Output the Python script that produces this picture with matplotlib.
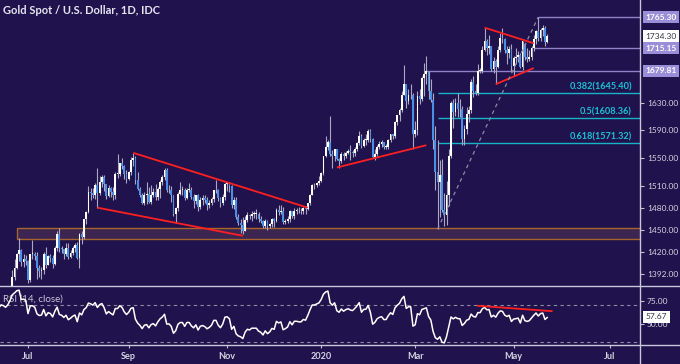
import matplotlib
matplotlib.use("Agg")
import matplotlib.pyplot as plt
import matplotlib.transforms as mtransforms
from matplotlib.lines import Line2D
from matplotlib.patches import Rectangle
from matplotlib.ticker import FixedLocator, FixedFormatter, NullLocator
import numpy as np
import pandas as pd

plt.rcParams['font.family'] = ['Lato', 'DejaVu Sans']

# XAU/USD daily bars, 1 May 2019 .. 22 May 2020, one row per month
opens = [
    1283, 1284, 1271, 1279, 1281, 1284, 1281, 1284, 1286, 1300, 1297, 1297, 1286, 1277, 1277, 1273, 1274, 1283, 1284, 1284, 1279, 1280, 1288,
    1305, 1327, 1326, 1333, 1337, 1341, 1327, 1327, 1334, 1342, 1341, 1339, 1346, 1360, 1388, 1400, 1418, 1423, 1408, 1411,
    1409, 1384, 1418, 1418, 1415, 1400, 1396, 1397, 1418, 1403, 1415, 1413, 1405, 1426, 1445, 1426, 1424, 1418, 1426, 1414, 1419, 1426, 1430,
    1413, 1445, 1440, 1464, 1474, 1502, 1500, 1497, 1512, 1500, 1516, 1523, 1513, 1496, 1507, 1502, 1498, 1527, 1527, 1542, 1538, 1527,
    1520, 1529, 1547, 1550, 1519, 1506, 1498, 1486, 1497, 1499, 1488, 1498, 1501, 1494, 1506, 1516, 1522, 1532, 1504, 1505, 1497,
    1472, 1479, 1499, 1505, 1505, 1493, 1505, 1505, 1495, 1489, 1497, 1481, 1491, 1493, 1490, 1484, 1487, 1492, 1504, 1504, 1493, 1487, 1495,
    1513, 1514, 1510, 1484, 1491, 1467, 1459, 1456, 1449, 1463, 1470, 1468, 1472, 1472, 1472, 1465, 1462, 1455, 1462, 1455, 1458,
    1464, 1462, 1477, 1474, 1476, 1460, 1462, 1465, 1475, 1469, 1476, 1476, 1475, 1475, 1479, 1478, 1486, 1498, 1511, 1511, 1514,
    1517, 1528, 1552, 1566, 1573, 1556, 1552, 1562, 1548, 1545, 1556, 1552, 1557, 1560, 1558, 1557, 1563, 1571, 1582, 1567, 1576, 1576,
    1589, 1577, 1551, 1556, 1566, 1570, 1572, 1566, 1566, 1576, 1584, 1581, 1602, 1612, 1620, 1643, 1659, 1634, 1642, 1642,
    1585, 1590, 1641, 1637, 1669, 1674, 1680, 1649, 1635, 1576, 1529, 1515, 1526, 1477, 1470, 1498, 1553, 1630, 1617, 1630, 1622, 1621,
    1577, 1591, 1614, 1620, 1662, 1648, 1645, 1680, 1680, 1713, 1727, 1716, 1718, 1683, 1695, 1686, 1713, 1731, 1729, 1713, 1707, 1714,
    1687, 1700, 1702, 1705, 1685, 1722, 1702, 1698, 1702, 1716, 1730, 1743, 1732, 1745, 1748, 1725,
]
highs = [
    1290, 1285, 1289, 1286, 1287, 1287, 1288, 1288, 1302, 1302, 1302, 1298, 1288, 1281, 1278, 1276, 1286, 1287, 1286, 1285, 1285, 1291, 1306,
    1328, 1334, 1343, 1346, 1348, 1341, 1332, 1337, 1347, 1358, 1345, 1353, 1362, 1397, 1411, 1419, 1439, 1424, 1418, 1416,
    1410, 1418, 1437, 1421, 1421, 1403, 1401, 1420, 1427, 1417, 1418, 1416, 1428, 1448, 1453, 1428, 1425, 1433, 1433, 1423, 1428, 1432, 1434,
    1446, 1449, 1465, 1475, 1510, 1507, 1507, 1514, 1535, 1524, 1525, 1525, 1513, 1511, 1508, 1508, 1530, 1555, 1543, 1550, 1540, 1532,
    1531, 1551, 1557, 1552, 1530, 1509, 1500, 1501, 1516, 1509, 1512, 1507, 1513, 1508, 1518, 1526, 1535, 1536, 1512, 1510, 1498,
    1481, 1501, 1515, 1510, 1507, 1507, 1514, 1509, 1499, 1497, 1499, 1495, 1498, 1497, 1494, 1490, 1495, 1505, 1518, 1506, 1495, 1499, 1514,
    1516, 1515, 1512, 1494, 1495, 1471, 1464, 1467, 1468, 1474, 1472, 1476, 1476, 1478, 1474, 1469, 1463, 1464, 1463, 1459, 1466,
    1466, 1479, 1484, 1483, 1481, 1465, 1468, 1477, 1476, 1479, 1479, 1481, 1479, 1481, 1482, 1487, 1499, 1513, 1514, 1516, 1524,
    1530, 1553, 1582, 1575, 1611, 1561, 1563, 1563, 1550, 1558, 1558, 1560, 1562, 1568, 1561, 1566, 1573, 1588, 1584, 1578, 1584, 1591,
    1592, 1578, 1562, 1568, 1574, 1576, 1573, 1570, 1577, 1585, 1585, 1604, 1612, 1623, 1649, 1689, 1660, 1651, 1660, 1645,
    1603, 1649, 1652, 1671, 1692, 1703, 1680, 1667, 1645, 1596, 1575, 1547, 1548, 1500, 1517, 1562, 1634, 1637, 1638, 1645, 1637, 1626,
    1598, 1625, 1626, 1667, 1671, 1660, 1690, 1684, 1719, 1748, 1730, 1736, 1718, 1701, 1698, 1718, 1739, 1748, 1731, 1719, 1719, 1722,
    1703, 1716, 1711, 1708, 1727, 1723, 1715, 1712, 1718, 1736, 1745, 1765.3, 1747, 1752, 1750, 1737,
]
lows = [
    1280, 1268, 1268, 1276, 1278, 1279, 1280, 1281, 1283, 1293, 1293, 1284, 1275, 1273, 1269, 1271, 1272, 1281, 1282, 1275, 1275, 1279, 1287,
    1304, 1320, 1324, 1326, 1331, 1323, 1320, 1326, 1331, 1338, 1337, 1337, 1342, 1357, 1384, 1399, 1409, 1402, 1401, 1404,
    1381, 1382, 1411, 1410, 1386, 1388, 1385, 1392, 1400, 1403, 1408, 1400, 1403, 1422, 1420, 1419, 1412, 1415, 1412, 1413, 1416, 1420, 1412,
    1400, 1431, 1438, 1458, 1473, 1490, 1493, 1492, 1480, 1497, 1509, 1503, 1492, 1494, 1494, 1491, 1492, 1521, 1524, 1534, 1520, 1514,
    1519, 1525, 1538, 1513, 1504, 1495, 1485, 1484, 1485, 1487, 1485, 1495, 1491, 1490, 1493, 1512, 1519, 1502, 1500, 1488, 1468,
    1459, 1475, 1497, 1498, 1491, 1492, 1502, 1492, 1480, 1485, 1476, 1478, 1484, 1486, 1477, 1480, 1484, 1488, 1500, 1489, 1481, 1484, 1491,
    1503, 1502, 1480, 1478, 1465, 1457, 1446, 1445, 1448, 1461, 1464, 1462, 1466, 1464, 1461, 1459, 1452, 1452, 1450, 1453, 1454,
    1454, 1461, 1470, 1472, 1458, 1458, 1459, 1461, 1466, 1464, 1471, 1473, 1471, 1471, 1472, 1477, 1484, 1497, 1506, 1508, 1512,
    1516, 1525, 1551, 1561, 1553, 1536, 1545, 1547, 1536, 1543, 1547, 1550, 1556, 1546, 1551, 1552, 1560, 1569, 1564, 1565, 1569, 1572,
    1573, 1549, 1547, 1553, 1562, 1566, 1562, 1562, 1563, 1572, 1577, 1578, 1598, 1603, 1617, 1643, 1623, 1629, 1636, 1563,
    1580, 1583, 1629, 1634, 1641, 1660, 1636, 1632, 1562, 1504, 1451, 1467, 1474, 1455, 1457, 1482, 1549, 1593, 1611, 1609, 1610, 1568,
    1568, 1584, 1602, 1616, 1640, 1642, 1643, 1677, 1676, 1710, 1705, 1706, 1680, 1676, 1659, 1684, 1709, 1724, 1707, 1691, 1700, 1680,
    1672, 1690, 1693, 1684, 1681, 1697, 1693, 1695, 1696, 1711, 1722, 1726, 1726, 1735, 1719, 1724,
]
closes = [
    1284, 1271, 1279, 1281, 1284, 1281, 1284, 1286, 1300, 1297, 1297, 1286, 1277, 1277, 1273, 1274, 1283, 1284, 1284, 1279, 1280, 1288, 1305,
    1327, 1326, 1333, 1337, 1341, 1327, 1327, 1334, 1342, 1341, 1339, 1346, 1360, 1388, 1400, 1418, 1423, 1408, 1411, 1409,
    1384, 1418, 1418, 1415, 1400, 1396, 1397, 1418, 1403, 1415, 1413, 1405, 1426, 1445, 1426, 1424, 1418, 1426, 1414, 1419, 1426, 1430, 1413,
    1445, 1440, 1464, 1474, 1502, 1500, 1497, 1512, 1500, 1516, 1523, 1513, 1496, 1507, 1502, 1498, 1527, 1527, 1542, 1538, 1527, 1520,
    1529, 1547, 1550, 1519, 1506, 1498, 1486, 1497, 1499, 1488, 1498, 1501, 1494, 1506, 1516, 1522, 1532, 1504, 1505, 1497, 1472,
    1479, 1499, 1505, 1505, 1493, 1505, 1505, 1495, 1489, 1497, 1481, 1491, 1493, 1490, 1484, 1487, 1492, 1504, 1504, 1493, 1487, 1495, 1513,
    1514, 1510, 1484, 1491, 1467, 1459, 1456, 1449, 1463, 1470, 1468, 1472, 1472, 1472, 1465, 1462, 1455, 1462, 1455, 1458, 1464,
    1462, 1477, 1474, 1476, 1460, 1462, 1465, 1475, 1469, 1476, 1476, 1475, 1475, 1479, 1478, 1486, 1498, 1511, 1511, 1514, 1517,
    1528, 1552, 1566, 1573, 1556, 1552, 1562, 1548, 1545, 1556, 1552, 1557, 1560, 1558, 1557, 1563, 1571, 1582, 1567, 1576, 1576, 1589,
    1577, 1551, 1556, 1566, 1570, 1572, 1566, 1566, 1576, 1584, 1581, 1602, 1612, 1620, 1643, 1659, 1634, 1642, 1642, 1585,
    1590, 1641, 1637, 1669, 1674, 1680, 1649, 1635, 1576, 1529, 1515, 1526, 1477, 1470, 1498, 1553, 1630, 1617, 1630, 1622, 1621, 1577,
    1591, 1614, 1620, 1662, 1648, 1645, 1680, 1680, 1713, 1727, 1716, 1718, 1683, 1695, 1686, 1713, 1731, 1729, 1713, 1707, 1714, 1687,
    1700, 1702, 1705, 1685, 1726, 1702, 1698, 1702, 1716, 1730, 1743, 1732, 1745, 1748, 1725, 1734.3,
]

holidays = ['2019-12-25', '2020-01-01']
price_ticks = [1630, 1590, 1550, 1510, 1480, 1450, 1420, 1392]
rsi_ticks = [75, 50]
month_labels = [('2019-07', 'Jul'), ('2019-09', 'Sep'), ('2019-11', 'Nov'), ('2020-01', '2020'),
                ('2020-03', 'Mar'), ('2020-05', 'May'), ('2020-07', 'Jul')]

# drawings
zone = (1438, 1452, '2019-06-24')
levels = [1765.30, 1715.15, 1679.81]
level_start = ['2020-05-18', '2020-05-14', '2020-03-09']
fib_ratio = ['0.382', '0.5', '0.618']
fib_price = [1645.40, 1608.36, 1571.32]
fib_start = '2020-03-16'
trend_lines = [
    (('2019-09-04', 1557), ('2019-12-23', 1480)),
    (('2019-08-13', 1480), ('2019-11-12', 1442)),
    (('2020-01-13', 1536), ('2020-03-09', 1568)),
    (('2020-04-14', 1748), ('2020-05-14', 1723)),
    (('2020-04-21', 1659), ('2020-05-14', 1684)),
]
fib_base = (('2020-03-16', 1451), ('2020-05-18', 1765.3))
rsi_line = (('2020-04-09', 69.6), ('2020-05-26', 63.8))
last_price = 1734.30
last_rsi = 57.67

bg = '#20124c'
txt = '#d4d4e2'
W, H = 680, 364
fs = 6.0

days = pd.bdate_range('2019-05-01', '2020-08-31')
days = days[~days.isin(pd.to_datetime(holidays))]
n = len(closes)
assert len(opens) == len(highs) == len(lows) == n

def ix(d):
    return days.get_loc(pd.Timestamp(d))

# RSI(14), Wilder smoothing
c = np.array(closes, float)
diff = np.diff(c)
gain = np.clip(diff, 0, None)
loss = np.clip(-diff, 0, None)
rsi = np.full(n, np.nan)
ag, al = gain[:14].mean(), loss[:14].mean()
rsi[14] = 100 - 100 / (1 + ag / al)
for i in range(15, n):
    ag = (ag * 13 + gain[i - 1]) / 14
    al = (al * 13 + loss[i - 1]) / 14
    rsi[i] = 100 - 100 / (1 + ag / al)

fig = plt.figure(figsize=(W / 100, H / 100), dpi=100, facecolor=bg)
ax = fig.add_axes([0, 78 / H, 640 / W, 286 / H], facecolor=bg)
rx = fig.add_axes([0, 19 / H, 640 / W, 59 / H], facecolor=bg, sharex=ax)

ppb = 2.238
x0 = ix('2019-07-01') - 28 / ppb
x1 = x0 + 640 / ppb

# candles
xs = np.arange(n)
o, h, l = np.array(opens, float), np.array(highs, float), np.array(lows, float)
rising = c >= o
ax.set_yscale('log')
ax.vlines(xs, l, h, colors='#a9a9c4', lw=0.8, zorder=3)
ax.bar(xs, np.maximum(np.abs(c - o), 0.7), bottom=np.minimum(o, c), width=0.8,
       color=np.where(rising, '#ffffff', '#4a8ee6'), lw=0, zorder=4)

ax.add_patch(Rectangle((ix(zone[2]), zone[0]), x1 - ix(zone[2]) + 5, zone[1] - zone[0],
                       fc='#3d2552', ec='#a8642c', lw=1.0, zorder=1))

blend = mtransforms.blended_transform_factory(ax.transAxes, ax.transData)
for lv, st in zip(levels, level_start):
    ax.hlines(lv, ix(st), x1 + 2, color='#8e82c8', lw=1.0, zorder=2)
for r, fp in zip(fib_ratio, fib_price):
    ax.hlines(fp, ix(fib_start), x1 + 2, color='#17b4c8', lw=1.0, zorder=2)
    ax.annotate(f'{r}({fp:.2f})', (1 - 8 / 640, fp), xycoords=blend, xytext=(0, 1),
                textcoords='offset points', ha='right', va='bottom', color='#1cc2d6',
                fontsize=6.6, fontweight='bold')

for (d0, p0), (d1, p1) in trend_lines:
    ax.plot([ix(d0), ix(d1)], [p0, p1], color='#ff1f1f', lw=1.3, zorder=5, solid_capstyle='butt')
(d0, p0), (d1, p1) = fib_base
ax.plot([ix(d0), ix(d1)], [p0, p1], color='#8c8ca6', lw=0.9, ls=(0, (3, 3)), zorder=5)

ax.set_xlim(x0, x1)
ax.set_ylim(1376.6, 1793.3)
ax.yaxis.tick_right()
ax.yaxis.set_major_locator(FixedLocator(price_ticks))
ax.yaxis.set_major_formatter(FixedFormatter([f'{t:.2f}' for t in price_ticks]))
ax.yaxis.set_minor_locator(NullLocator())
ax.tick_params(axis='y', length=3, width=0.8, color='#c0c0d0', pad=2, labelsize=fs, labelcolor=txt)
ax.tick_params(axis='x', bottom=False, labelbottom=False)
for s in ax.spines.values():
    s.set_visible(False)

# right-hand price labels
for lv in levels:
    ax.annotate(f'{lv:.2f}', (1, lv), xycoords=blend, xytext=(4, 0), textcoords='offset points',
                ha='left', va='center', color='white', fontsize=fs, fontweight='bold',
                annotation_clip=False,
                bbox=dict(boxstyle='square,pad=0.3', fc='#9a8ed8', ec='none'))
ax.annotate(f'{last_price:.2f}', (1, last_price), xycoords=blend, xytext=(4, 0), textcoords='offset points',
            ha='left', va='center', color='#333344', fontsize=fs, annotation_clip=False,
            bbox=dict(boxstyle='square,pad=0.3', fc='white', ec='none'))

ax.text(3 / 640, 1 - 10 / 286, 'Gold Spot / U.S. Dollar, 1D, IDC', transform=ax.transAxes,
        ha='left', va='center', color='#e6e6f2', fontsize=8, fontweight='bold')

# RSI panel
rx.plot(xs, rsi, color='white', lw=1.1, zorder=4)
rx.axhline(70, color='#8c8ca0', lw=0.8, ls=(0, (3, 3)))
rx.axhline(30, color='#8c8ca0', lw=0.8, ls=(0, (3, 3)))
(d0, v0), (d1, v1) = rsi_line
rx.plot([ix(d0), ix(d1)], [v0, v1], color='#ff1f1f', lw=1.3, zorder=5)
rx.set_ylim(27.2, 91)
rx.yaxis.tick_right()
rx.set_yticks(rsi_ticks)
rx.set_yticklabels([f'{t:.2f}' for t in rsi_ticks])
rx.tick_params(axis='y', length=3, width=0.8, color='#c0c0d0', pad=2, labelsize=fs, labelcolor=txt)
rx.set_xticks([ix(days[days.strftime('%Y-%m') == m][0]) for m, _ in month_labels])
rx.set_xticklabels([lab for _, lab in month_labels])
rx.tick_params(axis='x', length=2, width=0.8, color='#c0c0d0', pad=3, labelsize=6.6, labelcolor=txt)
for lab in rx.get_xticklabels():
    lab.set_fontweight('bold')
for s in rx.spines.values():
    s.set_visible(False)
rx.text(3 / 640, 1 - 13 / 59, 'RSI (14, close)', transform=rx.transAxes, ha='left', va='center',
        color='#c8c8d8', fontsize=7, zorder=2)
rblend = mtransforms.blended_transform_factory(rx.transAxes, rx.transData)
rx.annotate(f'{last_rsi:.2f}', (1, last_rsi), xycoords=rblend, xytext=(4, 0), textcoords='offset points',
            ha='left', va='center', color='#333344', fontsize=fs, annotation_clip=False,
            bbox=dict(boxstyle='square,pad=0.3', fc='white', ec='none'), zorder=6)

# panel separators
sep = '#c8c8d8'
fig.add_artist(Line2D([0, 1], [1 - 286 / H] * 2, color=sep, lw=1.0))
fig.add_artist(Line2D([0, 1], [1 - 345 / H] * 2, color=sep, lw=1.0))
fig.add_artist(Line2D([640 / W] * 2, [0, 1], color=sep, lw=1.0))

fig.savefig('out.png', dpi=100, facecolor=bg)
